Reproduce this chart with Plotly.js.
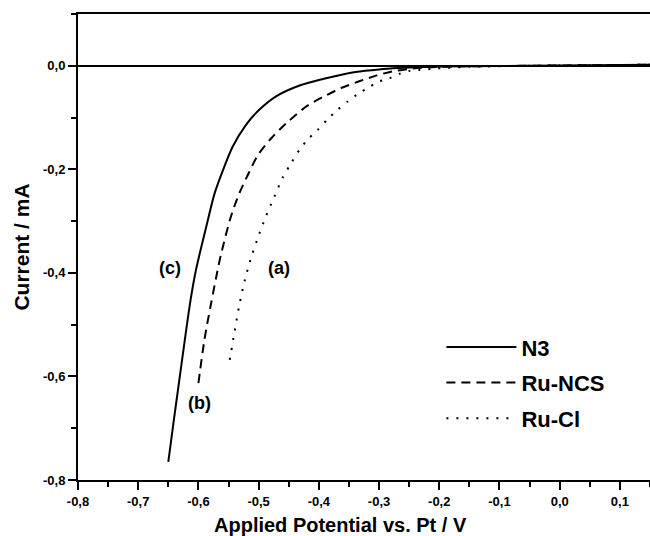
<!DOCTYPE html>
<html>
<head>
<meta charset="utf-8">
<script src="https://cdn.plot.ly/plotly-3.0.1.min.js"></script>
<style>html,body{margin:0;padding:0;background:#fff;}#chart{width:650px;height:536px;}</style>
</head>
<body>
<div id="chart"></div>
<script>
// Series names
const seriesNames = ["N3", "Ru-NCS", "Ru-Cl"];

// N3 (c)
const n3X = [-0.650, -0.641, -0.631, -0.621, -0.613, -0.604, -0.587, -0.573, -0.559, -0.543, -0.521, -0.499, -0.471, -0.432, -0.388, -0.339, -0.300, -0.267, -0.212, -0.150, -0.050, 0.050, 0.150];
const n3Y = [-0.765, -0.686, -0.601, -0.516, -0.452, -0.394, -0.311, -0.246, -0.201, -0.156, -0.114, -0.085, -0.059, -0.038, -0.024, -0.012, -0.007, -0.0045, -0.002, -0.001, 0.000, 0.001, 0.002];

// Ru-NCS (b)
const ncsX = [-0.600, -0.590, -0.579, -0.568, -0.562, -0.546, -0.532, -0.518, -0.501, -0.479, -0.454, -0.419, -0.391, -0.363, -0.333, -0.305, -0.278, -0.250, -0.220, -0.150, -0.050, 0.050, 0.150];
const ncsY = [-0.613, -0.529, -0.459, -0.394, -0.362, -0.291, -0.246, -0.211, -0.172, -0.140, -0.111, -0.077, -0.059, -0.043, -0.030, -0.019, -0.011, -0.006, -0.003, -0.001, 0.000, 0.001, 0.002];

// Ru-Cl (a)
const clX = [-0.548, -0.540, -0.532, -0.523, -0.511, -0.499, -0.488, -0.474, -0.460, -0.446, -0.432, -0.419, -0.402, -0.386, -0.369, -0.352, -0.336, -0.319, -0.303, -0.283, -0.267, -0.250, -0.234, -0.212, -0.196, -0.150, -0.050, 0.050, 0.150];
const clY = [-0.568, -0.514, -0.462, -0.414, -0.365, -0.325, -0.291, -0.253, -0.216, -0.188, -0.162, -0.143, -0.124, -0.104, -0.085, -0.069, -0.055, -0.043, -0.032, -0.024, -0.016, -0.010, -0.008, -0.006, -0.0045, -0.002, 0.000, 0.001, 0.002];

// Tick labels
const xTickVals = [-0.8, -0.7, -0.6, -0.5, -0.4, -0.3, -0.2, -0.1, 0.0, 0.1];
const xTickText = ["-0,8", "-0,7", "-0,6", "-0,5", "-0,4", "-0,3", "-0,2", "-0,1", "0,0", "0,1"];
const yTickVals = [0.0, -0.2, -0.4, -0.6, -0.8];
const yTickText = ["0,0", "-0,2", "-0,4", "-0,6", "-0,8"];

// Curve labels
const curveLabels = ["(c)", "(a)", "(b)"];
const curveLabelX = [-0.648, -0.466, -0.598];
const curveLabelY = [-0.391, -0.391, -0.651];

const FONT = "Liberation Sans, Arial, sans-serif";
const BOLD = (size) => ({family: FONT, size: size, color: "#000", weight: "bold"});

const traces = [
  {x: n3X, y: n3Y, name: seriesNames[0], legendgroup: "g1", mode: "lines", line: {color: "#000", width: 2, dash: "solid", shape: "spline", smoothing: 0.8}},
  {x: ncsX, y: ncsY, name: seriesNames[1], legendgroup: "g2", mode: "lines", line: {color: "#000", width: 2, dash: "9px,6px", shape: "spline", smoothing: 0.8}},
  {x: clX, y: clY, name: seriesNames[2], legendgroup: "g3", mode: "lines", line: {color: "#000", width: 2, dash: "2px,8px", shape: "spline", smoothing: 0.8}}
];

const annotations = curveLabels.map((t, i) => ({
  x: curveLabelX[i], y: curveLabelY[i], xref: "x", yref: "y", text: t, showarrow: false,
  font: BOLD(18)
}));
annotations.push({
  x: (340 - 78) / (650 - 78), xref: "paper", y: (480 - 525) / 466, yref: "paper",
  yanchor: "middle", text: "Applied Potential vs. Pt / V", showarrow: false,
  font: BOLD(20)
});

const layout = {
  width: 650, height: 536,
  margin: {l: 78, r: 0, t: 14, b: 56},
  paper_bgcolor: "#fff", plot_bgcolor: "#fff",
  showlegend: true,
  legend: {
    x: 0.6353, y: 0.33, xanchor: "left", yanchor: "top",
    font: BOLD(22), traceorder: "grouped",
    itemwidth: 70, tracegroupgap: 4, bgcolor: "rgba(0,0,0,0)"
  },
  xaxis: {
    range: [-0.8, 0.15], showgrid: false, zeroline: false,
    showline: true, linecolor: "#000", linewidth: 2, mirror: true,
    ticks: "outside", ticklen: 8, tickwidth: 2, tickcolor: "#000",
    tickvals: xTickVals, ticktext: xTickText,
    minor: {dtick: 0.05, tick0: 0, ticks: "outside", ticklen: 5, tickwidth: 2, tickcolor: "#000"},
    tickfont: BOLD(13)
  },
  yaxis: {
    range: [-0.8, 0.1], showgrid: false,
    zeroline: true, zerolinecolor: "#000", zerolinewidth: 1.5,
    showline: true, linecolor: "#000", linewidth: 2,
    ticks: "outside", ticklen: 8, tickwidth: 2, tickcolor: "#000",
    tickvals: yTickVals, ticktext: yTickText,
    minor: {dtick: 0.1, tick0: 0, ticks: "outside", ticklen: 5, tickwidth: 2, tickcolor: "#000"},
    tickfont: BOLD(13),
    title: {text: "Current / mA", standoff: 8, font: BOLD(21)}
  },
  annotations: annotations
};

Plotly.newPlot("chart", traces, layout, {displayModeBar: false, staticPlot: true});
</script>
</body>
</html>
